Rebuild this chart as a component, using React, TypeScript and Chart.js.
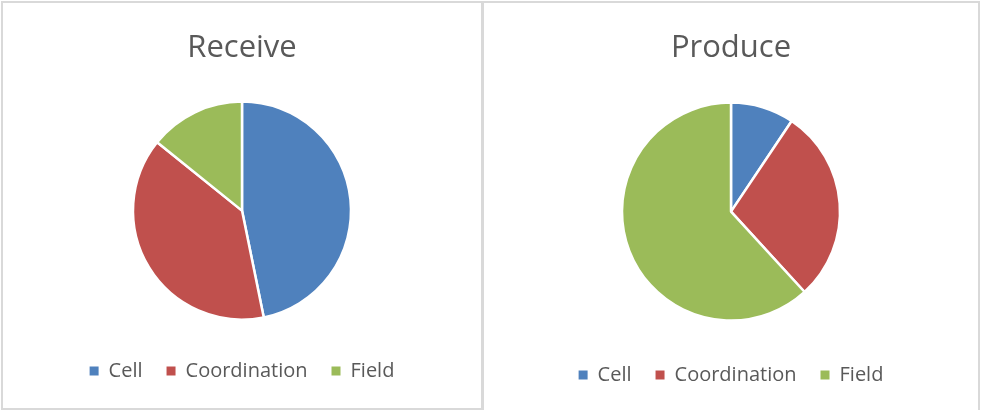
import React, { useEffect, useRef } from "react";
import { Chart, registerables } from "chart.js";

Chart.register(...registerables);

const categories = ["Cell", "Coordination", "Field"];
const receiveValues = [46.8, 39.0, 14.2];
const produceValues = [9.4, 28.8, 61.8];
const colors = ["#4F81BD", "#C0504D", "#9BBB59"];
const FONT = "'Open Sans', 'Noto Sans', sans-serif";

function PieBox(props: {
  title: string;
  values: number[];
  style: React.CSSProperties;
  bottomPad: number;
  titleGap: number;
}) {
  const ref = useRef<HTMLCanvasElement | null>(null);
  useEffect(() => {
    if (!ref.current) return;
    const chart = new Chart(ref.current, {
      type: "pie",
      data: {
        labels: categories,
        datasets: [
          {
            data: props.values,
            backgroundColor: colors,
            borderColor: "#ffffff",
            borderWidth: 2.5,
            radius: 109,
          } as any,
        ],
      },
      options: {
        animation: false,
        responsive: true,
        maintainAspectRatio: false,
        layout: { padding: { top: 0, bottom: props.bottomPad, left: 0, right: 0 } },
        plugins: {
          title: {
            display: true,
            text: props.title,
            color: "#595959",
            font: { family: FONT, size: 31, weight: "normal" },
            padding: { top: 27, bottom: props.titleGap },
          },
          legend: {
            position: "bottom",
            labels: {
              color: "#595959",
              font: { family: FONT, size: 20 },
              boxWidth: 9,
              boxHeight: 9,
              padding: 24,
              generateLabels: (c: any) =>
                categories.map((label, i) => ({
                  text: label,
                  fillStyle: colors[i],
                  strokeStyle: colors[i],
                  lineWidth: 0,
                  fontColor: "#595959",
                  hidden: false,
                  index: i,
                })),
            },
          },
          tooltip: { enabled: false },
        },
      },
    });
    return () => chart.destroy();
  }, []);
  return (
    <div
      style={{
        position: "absolute",
        boxSizing: "border-box",
        border: "2px solid #d9d9d9",
        background: "#fff",
        ...props.style,
      }}
    >
      <canvas ref={ref} />
    </div>
  );
}

export default function App() {
  return (
    <div style={{ position: "fixed", left: 0, top: 0, width: 981, height: 410, background: "#fff", overflow: "hidden" }}>
      <PieBox title="Receive" values={receiveValues} style={{ left: 1, top: 1, width: 482, height: 409 }} bottomPad={17} titleGap={17} />
      <PieBox title="Produce" values={produceValues} style={{ left: 482, top: 1, width: 498, height: 420 }} bottomPad={24} titleGap={15} />
    </div>
  );
}
